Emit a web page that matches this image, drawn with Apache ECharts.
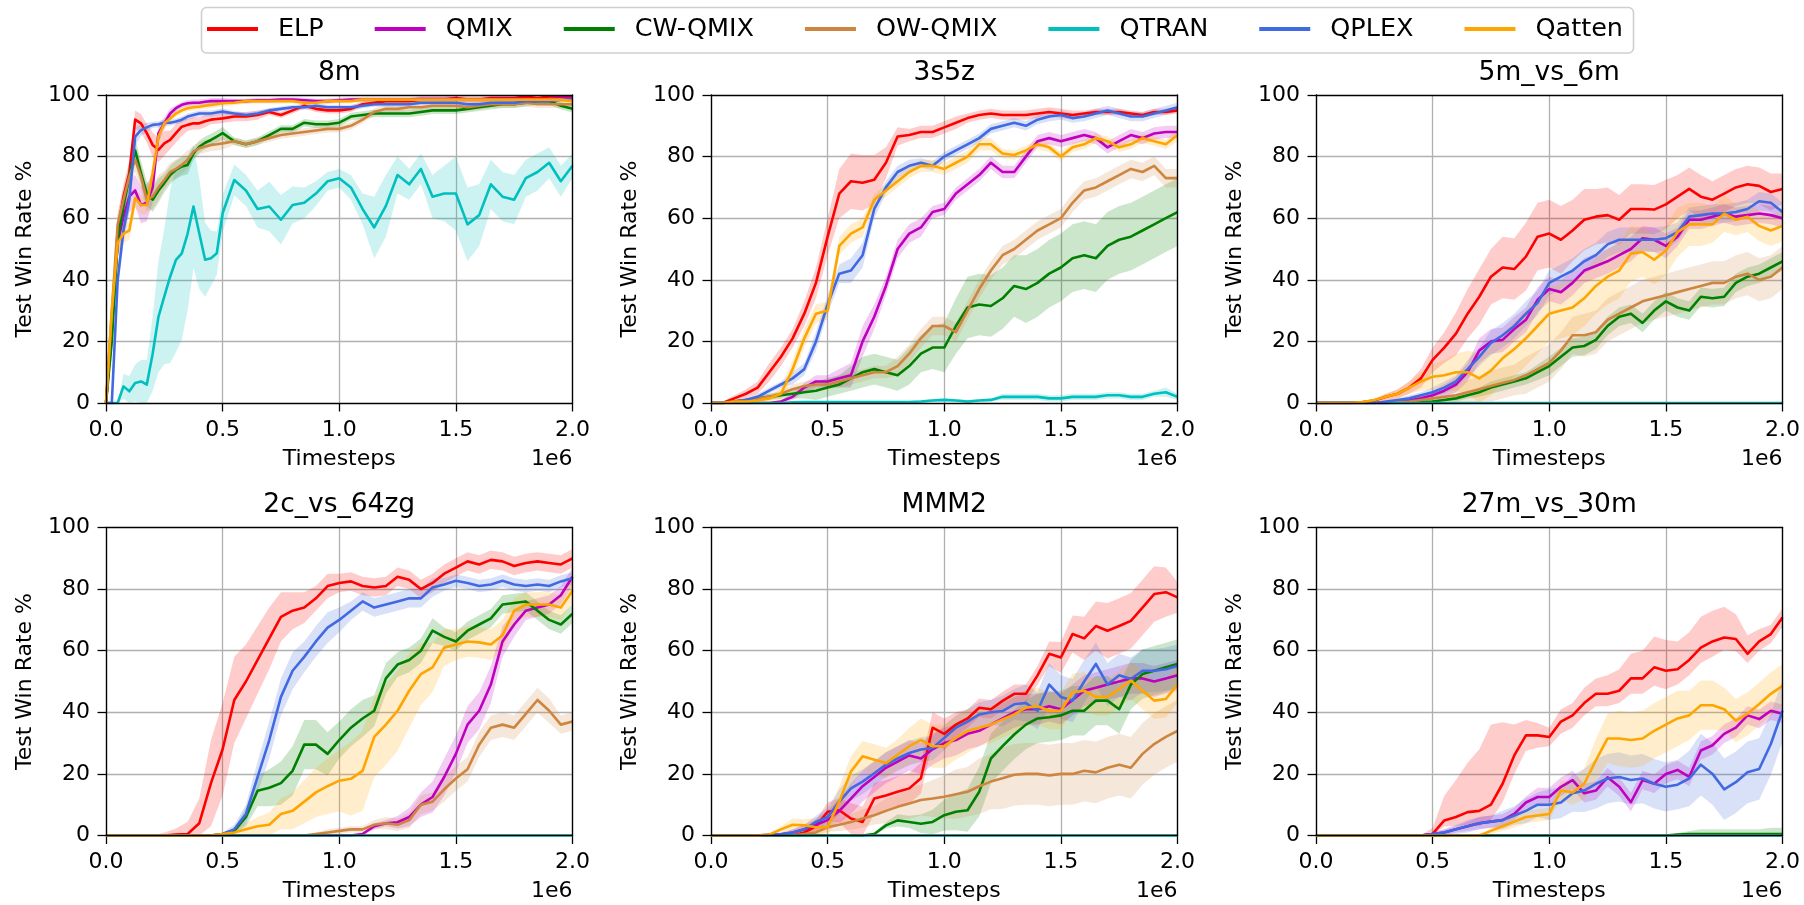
<!DOCTYPE html>
<html><head><meta charset="utf-8">
<script src="https://cdn.jsdelivr.net/npm/echarts/dist/echarts.min.js"></script>
<style>html,body{margin:0;padding:0;background:#fff}#c{width:1804px;height:905px}</style>
</head><body><div id="c"></div>
<script>
// ---------------- DATA ----------------
const METHODS = ['ELP','QMIX','CW-QMIX','OW-QMIX','QTRAN','QPLEX','Qatten'];
const TITLES = ['8m','3s5z','5m_vs_6m','2c_vs_64zg','MMM2','27m_vs_30m'];
const X_TICKS = [0, 0.5, 1.0, 1.5, 2.0];   // x in units of 1e6
const Y_TICKS = [0, 20, 40, 60, 80, 100];

const X_STD = [0,0.05,0.1,0.15,0.2,0.25,0.3,0.35,0.4,0.45,
 0.5,0.55,0.6,0.65,0.7,0.75,0.8,0.85,0.9,0.95,
 1.0,1.05,1.1,1.15,1.2,1.25,1.3,1.35,1.4,1.45,
 1.5,1.55,1.6,1.65,1.7,1.75,1.8,1.85,1.9,1.95,
 2.0];
const X_8M = [0,0.025,0.05,0.075,0.1,0.125,0.15,0.175,0.2,0.225,
 0.25,0.275,0.3,0.325,0.35,0.375,0.4,0.425,0.45,0.475,
 0.5,
 0.55,0.6,0.65,0.7,0.75,0.8,0.85,0.9,0.95,1.0,
 1.05,1.1,1.15,1.2,1.25,1.3,1.35,1.4,1.45,1.5,
 1.55,1.6,1.65,1.7,1.75,1.8,1.85,1.9,1.95,2.0];
const Z41 = [0,0,0,0,0,0,0,0,0,0, 0,0,0,0,0,0,0,0,0,0, 0,0,0,0,0,0,0,0,0,0, 0,0,0,0,0,0,0,0,0,0, 0];

// ---- 8m ----
const s8_ELP = [0,25,56,67,74.6,92,90.8,87.6,83.8,82.2,84.3,85.4,87.6,89.7,90.3,90.8,90.8,91.5,92,92.2,92.4,
 93,93,93.5,94.5,93.5,95,96.5,95.5,95,95,
 95.5,97,97.5,98,98,98,98.5,98.5,98.5,99,
 98.5,98.5,99,99,99,99.5,99,99.5,99.5,99.5];
const s8_ELP_sd = [0,5,5,4,4,3,3,3,4,4,4,3,3,3,2,2,2,2,1.5,1.5,1.5,
 1.5,1.5,1.5,1,1,1,1,1,1,1,
 1,1,1,1,1,1,1,1,1,1,
 1,1,1,1,1,1,1,1,1,1];
const s8_QMIX = [0,25,52,60.5,67,69,64.3,65,70,87.6,90.8,94,95.7,96.8,97.3,97.5,97.5,97.8,98,98,98,
 98,98,98.3,98.3,98.5,98.5,98.3,98,98,98.3,
 98.5,98.5,98.5,98.5,98.5,98.5,98.7,98.7,98.7,98.7,
 98.5,98.5,98.7,98.7,98.7,98.7,98.5,98.7,99,99];
const s8_QMIX_sd = [0,5,5,5,5,5,6,6,5,3,2,1.5,1,1,1,1,1,1,1,1,1,
 0.8,0.8,0.8,0.8,0.8,0.8,0.8,0.8,0.8,0.8,
 0.8,0.8,0.8,0.8,0.8,0.8,0.8,0.8,0.8,0.8,
 0.8,0.8,0.8,0.8,0.8,0.8,0.8,0.8,0.8,0.8];
const s8_CW = [0,20,53,63.8,73.5,82,74.6,68,66,69,71.4,74,75.7,76.8,77.3,81,83.2,84.5,85.4,86.5,87.6,
 85,84,85,87,89,89,91,90.5,90.5,91,
 93,93.5,94,94,94,94,94.5,95,95,95,
 95.5,96,96.5,97,97,97.5,98,98,96.5,95.5];
const s8_CW_sd = [0,4,4,4,4,4,4,4,4,4,3,3,3,3,3,2,2,2,2,2,2,
 1.2,1.2,1.2,1.2,1.2,1.2,1.2,1.2,1.2,1.2,
 1.2,1.2,1.2,1.2,1.2,1.2,1.2,1.2,1.2,1.2,
 1.2,1.2,1.2,1.2,1.2,1.2,1.2,1.2,1.2,1.2];
const s8_OW = [0,30,58,66,73.5,79,73.5,66,67,70,72.4,75,76,77.3,79,81.6,82.7,83.3,83.8,84,84.3,
 85,84,85,86,87,87.5,88,88.5,89,89,
 90,92,94.5,95.5,95.5,96,96,96.5,96.5,96.5,
 96,96.5,97,97,97,97.5,97,97,97,97];
const s8_OW_sd = [0,4,4,4,4,4,4,4,4,4,3,3,3,3,3,2,2,2,2,2,2,
 1.2,1.2,1.2,1.2,1.2,1.2,1.2,1.2,1.2,1.2,
 1.2,1.2,1.2,1.2,1.2,1.2,1.2,1.2,1.2,1.2,
 1.2,1.2,1.2,1.2,1.2,1.2,1.2,1.2,1.2,1.2];
const s8_QTRAN = [0,0,0,5.4,3.8,6.5,7,6,16,28,34.6,41,46.5,48.6,55,63.8,55,46.5,47,48.6,61.6,
 72.4,69,63,63.8,59.5,64.3,65,68,72,73,
 70,63,57,64,74,71,76,67,68,68,
 58,61,71,67,66,73,75,78,72,77];
const s8_QTRAN_sd = [0,0,0,4,5,6,7,8,12,18,22,28,30,28,25,20,18,12,9,7,6,
 5,5,6,8,8,6,5,4,3,3,
 4,5,10,10,6,5,5,7,9,12,
 12,10,8,8,8,6,6,5,5,4];
const s8_QPLEX = [0,0,40,56,66,86.5,88.6,89.5,90.3,90.5,91,91,91.4,92,93,93.5,94,94,94,94.3,94.6,
 94,93.5,94,95,95.5,96,96,96.5,96,96,
 96,96.5,97,97,97,97,97.5,97.5,97.5,97.5,
 97,97,97.5,97.5,97.5,98,98,98,98.5,98.5];
const s8_QPLEX_sd = [0,0,4,4,4,3,2,1.5,1,1,1,1,1,1,1,1,1,1,1,1,1,
 0.8,0.8,0.8,0.8,0.8,0.8,0.8,0.8,0.8,0.8,
 0.8,0.8,0.8,0.8,0.8,0.8,0.8,0.8,0.8,0.8,
 0.8,0.8,0.8,0.8,0.8,0.8,0.8,0.8,0.8,0.8];
const s8_Qatten = [0,30,52,55,56,66.5,64.3,64.3,74.6,86.5,90.8,92.4,94,95,95.7,96,96.2,96.5,96.8,97,97.3,
 97.5,98,98,98,98,98,97.5,97.5,98,98,
 98,98.5,98.5,98.5,98.5,98.5,98.5,98.5,98.5,98.5,
 98.5,98.5,98.5,98.5,98.5,98.5,98.5,98.5,98.5,98];
const s8_Qatten_sd = [0,5,4,3,3,3,3,3,3,2,1.5,1,1,1,1,1,1,1,1,1,1,
 0.8,0.8,0.8,0.8,0.8,0.8,0.8,0.8,0.8,0.8,
 0.8,0.8,0.8,0.8,0.8,0.8,0.8,0.8,0.8,0.8,
 0.8,0.8,0.8,0.8,0.8,0.8,0.8,0.8,0.8,0.8];

// ---- 3s5z ----
const s3_ELP = [0,0,1.5,3,5,10,15,21,29,39, 54,68,72,71.5,72.5,78,86.5,87,88,88,
 89.5,91,92.5,93.5,94,93.5,93.5,93.5,94,94.5, 94,93.5,94,94.5,94.5,94.5,94,93.5,94.5,94.5, 95];
const s3_ELP_sd = [0,0.5,1,1.5,2,3,3,3,4,5, 6,8,9,9,8,5,3,2,2,2,
 2,2,1.5,1.5,1.5,1.5,1.5,1.5,1.5,1.5, 1.5,1.5,1,1,1,1,1,1,1,1, 1];
const s3_QMIX = [0,0,0,0,0,0,0.5,2,5,7, 7,8,9,20,28,38,50,55,57,62,
 63,68,71,74,78,75,75,80,85,86, 85,86,87,86,83,85,87,86,87.5,88, 88];
const s3_QMIX_sd = [0,0,0,0,0,0,0.5,1,1.5,2, 2,3,4,5,4,3,3,3,3,2,
 2,2,2,2,2,2,2,2,2,2, 2,2,2,2,2,2,2,2,2,2, 2];
const s3_CW = [0,0,0.5,1,1.5,2,2.5,3,3.5,4, 5,6,8,10,11,10,9,12,16,18,
 18,25,31,32,31.5,34,38,37,39,42, 44,47,48,47,51,53,54,56,58,60, 62];
const s3_CW_sd = [0,0,0.5,0.5,1,1,1,1.5,2,3, 3,3,4,5,5,5,5,6,6,7,
 8,9,10,10,10,10,10,11,11,11, 11,11,11,11,11,11,11,11,11,11, 11];
const s3_OW = [0,0,0.5,1,1.5,2,3,4.5,5.5,6, 6,7,8,9,10,10,12,16,21,25,
 25,23,30,37,43,48,50,53,56,58, 60,65,69,70,72,74,76,75,77,73, 73];
const s3_OW_sd = [0,0,0.5,0.5,1,1,1,1.5,1.5,1.5, 1.5,2,2,2,2,2,3,3,3,3,
 3,3,3,3,3,3,3,3,3,3, 3,3,3,3,3,3,3,3,3,3, 3];
const s3_QTRAN = [0,0,0,0,0,0,0,0.2,0.3,0.3, 0.3,0.3,0.3,0.3,0.3,0.3,0.3,0.3,0.5,0.8,
 1,0.8,0.5,0.8,1,2,2,2,2,1.5, 1.5,2,2,2,2.5,2.5,2,2,3,3.5, 2];
const s3_QTRAN_sd = [0,0,0,0,0,0,0,0.3,0.3,0.3, 0.3,0.3,0.3,0.3,0.3,0.3,0.3,0.3,0.5,0.5,
 0.5,0.5,0.5,0.5,0.5,1,1,1,1,1, 1,1,1,1,1,1,1,1,1,1.5, 1];
const s3_QPLEX = [0,0,0.5,1,2,4,6,8,11,20, 32,42,43,48,63,70,75,77,78,77,
 80,82,84,86,89,90,91,90,92,93, 93.5,92.5,93,94,95,94,93,93,94,95, 96];
const s3_QPLEX_sd = [0,0,0.5,0.5,1,1,1,2,2,3, 3,3,4,4,3,2,2,2,1.5,1.5,
 1.5,1.5,1.5,1.5,1.5,1.5,1.5,1.5,1.5,1.5, 1.5,1.5,1.5,1.5,1.5,1.5,1.5,1.5,1.5,1.5, 1.5];
const s3_Qatten = [0,0,0.5,0.5,0.8,1.5,3,11,21,29, 30,51,55,57,66,69,72,75,77,77,
 76,78,80,84,84,81,80.5,82,84,83, 80,83,84,86,85,83,84,86,85,84, 87];
const s3_Qatten_sd = [0,0,0.5,0.5,0.5,1,2,3,3,3, 3,3,3,3,2,2,2,2,2,2,
 2,2,2,2,2,1.5,1.5,1.5,1.5,1.5, 1.5,1.5,1.5,1.5,1.5,1.5,1.5,1.5,1.5,1.5, 2];

// ---- 5m_vs_6m ----
const s5_ELP = [0,0,0,0,0.3,0.8,2,3,5,8, 14,18,22.5,29,34.5,41,44,43.5,47.5,54,
 55,53,56,59.5,60.5,61,59.5,63,63,62.8, 64.5,67,69.5,67,66,68,70,71,70.5,68.5, 69.5];
const s5_ELP_sd = [0,0,0,0,0.3,0.5,1,1.5,2,3, 4,5,7,8,9,9,10,10,11,11,
 11,11,10,10,9,9,8,8,8,8, 8,7,7,7,6,6,6,6,6,6, 5];
const s5_QMIX = [0,0,0,0,0,0,0,0.3,0.8,1.5, 2.5,4,6,10,17,20,20.5,24,27,33.5,
 37,36,39,43,44.5,46,48,50,53.5,53, 51,54,59.5,59.5,60.5,61.5,60.5,61,61.5,61, 60];
const s5_QMIX_sd = [0,0,0,0,0,0,0,0.3,0.5,1, 1.5,2,2.5,3,4,4,4,4,4,4,
 4,4,4,4,4,4,4,4,4,4, 4,3,3,3,3,3,3,3,3,3, 3];
const s5_CW = [0,0,0,0,0,0,0,0,0,0.3, 0.5,1,1.5,2.5,3.5,5,6,7,8,10,
 12,15,18,18.5,20.5,25,28,29,26,30, 33,31,30,34.5,34,34.5,39,41,42,44, 46];
const s5_CW_sd = [0,0,0,0,0,0,0,0,0,0.3, 0.5,0.5,1,1,1.5,2,2,2,2,2.5,
 3,3,3,3,3,3,3,3,3,3, 3,3,3,3,3,3,3,3,3,3, 3];
const s5_OW = [0,0,0,0,0,0,0,0.3,0.5,1, 1.5,2,2.5,3.5,4.5,5.5,6.5,7.5,9,11,
 13,17,22,22,23,27,29,31,33,34, 35,36,37,38,39,39,41,42,40,41, 44];
const s5_OW_sd = [0,0,0,0,0,0,0,0.5,1,1.5, 2,3,3,4,4,5,5,5,6,6,
 6,6,6,7,7,7,7,7,7,7, 7,7,7,7,7,7,7,7,7,7, 7];
const s5_QTRAN = Z41, s5_QTRAN_sd = Z41;
const s5_QPLEX = [0,0,0,0,0,0,0.5,1,1.5,2.5, 3.5,5,7,11,15,19.5,22,25,29,32.5,
 39,41,43,46,48,51.5,53,53,53,53, 53.5,55.5,60.5,61,61.5,61.5,62,63,65.5,65, 62];
const s5_QPLEX_sd = [0,0,0,0,0,0,0.5,0.5,1,1, 1.5,2,2,3,3,4,4,4,4,4,
 4,4,4,4,4,4,4,4,4,4, 4,3,3,3,3,3,3,3,3,3, 3];
const s5_Qatten = [0,0,0,0,0.3,1,2,3,5,7, 8.5,9,10,10,8,10.5,14.5,17.5,21,25,
 29,30,31,34,38,41,43,48.5,49,46.5, 49.5,55.5,58,58,58,61.5,59.5,60.5,57.5,56, 57.5];
const s5_Qatten_sd = [0,0,0,0,0.3,0.5,1,1.5,2,3, 4,5,6,7,8,8,8,9,9,9,
 9,9,9,9,9,9,9,9,8,8, 8,8,7,7,6,6,5,5,5,5, 5];

// ---- 2c_vs_64zg ----
const s2_ELP = [0,0,0,0,0,0,0.3,0.5,4,17, 28,44,50,57,64,71,73,74,77,81,
 82,82.5,81,80.5,81,84,83,80,82,85, 87,89,88,89.5,89,87.5,88.5,89,88.5,88, 90];
const s2_ELP_sd = [0,0,0,0,0,1,2,4,8,14, 15,14,12,11,10,8,6,5,4,4,
 3,3,3,3,3,3,3,3,3,3, 3,3,3,3,3,3,3,3,3,3, 3];
const s2_QMIX = [0,0,0,0,0,0,0,0,0,0, 0,0,0,0,0,0,0,0,0,0,
 0,0,0.5,3,4,4.3,6,10,12.5,19, 26.5,36,40.5,49,63,68.5,73,74,75,78, 84];
const s2_QMIX_sd = [0,0,0,0,0,0,0,0,0,0, 0,0,0,0,0,0,0,0,0,0,
 0,0,0.5,1,1,2,3,4,5,6, 6,6,6,6,5,4,3,3,3,3, 3];
const s2_CW = [0,0,0,0,0,0,0,0,0,0, 0.5,1.5,6,14.5,15.5,17,21,29.5,29.5,26.5,
 31,35,38,40.5,51,55.5,57,60,66.5,64.5, 63,66.5,68.5,70.5,75,75.5,76,73,70,68.5, 72];
const s2_CW_sd = [0,0,0,0,0,0,0,0,0,0, 0.5,1,3,5,6,7,8,8,8,7,
 6,6,6,5,5,4,4,4,4,3, 3,3,3,3,3,3,3,3,3,3, 3];
const s2_OW = [0,0,0,0,0,0,0,0,0,0, 0,0,0,0,0,0,0,0,0.5,1,
 1.5,2,2,3.5,4,3.5,5,10,11,15, 18.5,21.5,29.5,35,36,35,39.5,44,40.5,36, 37];
const s2_OW_sd = [0,0,0,0,0,0,0,0,0,0, 0,0,0,0,0,0,0,0,0.5,1,
 1,1,1,1.5,2,2,2.5,3,3,4, 4,4,4,4,4,4,4,4,4,3, 3];
const s2_QTRAN = Z41, s2_QTRAN_sd = Z41;
const s2_QPLEX = [0,0,0,0,0,0,0,0,0,0, 0.5,2,7,19,31,45,53.5,58,63,67.5,
 70,73,76,74,75,76,77,77,80.5,81.5, 82.7,82,81,81.5,82.7,81.5,81,81.5,81,82.5, 83.5];
const s2_QPLEX_sd = [0,0,0,0,0,0,0,0,0,0, 0.5,1.5,3,5,6,6,6,5,5,5,
 4,3,3,3,3,3,3,3,3,2, 2,2,2,2,2,2,2,2,2,2, 2];
const s2_Qatten = [0,0,0,0,0,0,0,0,0,0, 0.5,1,2,3,3.5,7,8,11,14,16,
 17.8,18.4,21,32,36,40.5,47,52.4,54.6,61, 62,63,62.7,62,65,73,75,75,75,74, 79.5];
const s2_Qatten_sd = [0,0,0,0,0,0,0,0,0,0, 0.5,1,2,3,4,5,6,7,8,9,
 10,12,13,13,13,13,12,10,8,6, 5,5,5,5,5,4,4,4,4,4, 4];

// ---- MMM2 ----
const sM_ELP = [0,0,0,0,0,0,0,0,1,3, 7.7,8.2,5.5,4.4,12,13,14.2,15.3,18.6,35,
 33,36,38,41.5,41,43.7,46,46,52,59, 57.8,65.4,64,68,66.5,68,69.7,74,78.4,79, 77.3];
const sM_ELP_sd = [0,0,0,0,0,0,0,0,1,2, 3,4,5,5,5,5,5,5,5,5,
 5,4,3,3,3,3,3,3,3,4, 5,6,7,8,9,9,9,9,9,8, 5];
const sM_QMIX = [0,0,0,0,0,0,0.3,1,2,3.5, 5,8,12,16,19,22,24,26,25,28,
 30,31,33,34,36,38,40,41,41,42, 41,44,47,48,49,50,51,51,50,51, 52];
const sM_QMIX_sd = [0,0,0,0,0,0,0.3,1,1.5,2, 3,4,5,5,5,5,5,5,5,5,
 5,5,5,5,5,5,5,5,5,5, 5,5,5,5,5,5,5,5,5,5, 5];
const sM_CW = [0,0,0,0,0,0,0,0,0,0, 0,0,0,0,0.5,3.3,4.9,4.4,3.8,4.4,
 6.6,7.7,8.2,14.2,25,29,32.8,36,38,38.4, 39,40.5,40.5,43.8,43.8,41,49,52.4,53.5,54.6, 55.7];
const sM_CW_sd = [0,0,0,0,0,0,0,0,0,0, 0,0,0,0,0.5,1,2,2,3,4,
 5,6,7,8,8,8,8,8,8,8, 8,8,8,8,8,8,8,8,8,8, 8];
const sM_OW = [0,0,0,0,0,0,0,0,0.5,1, 2.7,3.5,4.4,5.5,6.6,8,9.3,10.4,11.5,12,
 12.6,13.4,14.2,16,17.5,18.6,19.7,20,20,19.5, 20,20,21,20.5,22,23,22,26.5,29.7,32, 34];
const sM_OW_sd = [0,0,0,0,0,0,0,0,0.5,1, 1.5,2,2.5,3,3,4,4,5,5,6,
 7,8,8,9,9,10,10,10,10,10, 10,10,10,10,10,10,10,10,10,10, 10];
const sM_QTRAN = Z41, sM_QTRAN_sd = Z41;
const sM_QPLEX = [0,0,0,0,0,0.3,0.5,1,2,4.4, 6,11,15.3,17.5,20.2,23,25,26.8,27.9,28.4,
 31.7,35,37,39.3,40,40.4,42.6,43,40.5,49, 45,43.8,50,55.7,49,52,50.8,53.5,53.5,54, 55];
const sM_QPLEX_sd = [0,0,0,0,0,0.3,0.5,1,1.5,2, 3,4,4,4,4,4,4,4,4,4,
 4,4,4,4,4,5,5,6,6,7, 7,7,7,7,7,7,7,7,7,7, 7];
const sM_Qatten = [0,0,0,0,0,0.3,2,3.5,3.3,2.7, 2.7,11,20.8,25.7,24.6,23.5,26.2,29,31,29,
 29,31.7,33.9,35,36,37.7,39.3,41.5,42,40.5, 40.5,46.5,47,45,45,47.5,50.3,47,43.8,44.3, 49];
const sM_Qatten_sd = [0,0,0,0,0,0.5,1,2,2,3, 4,5,5,5,5,5,5,6,7,7,
 7,7,7,6,6,6,6,6,6,6, 6,6,6,6,6,6,6,6,6,6, 6];

// ---- 27m_vs_30m ----
const s27_ELP = [0,0,0,0,0,0,0,0,0,0, 0.5,4.9,6,7.6,8,10,16.8,26,32.5,32.5,
 32,37,39,43,46,46,47,51,51,54.6, 53.5,54,57,61,63,64.3,63.8,59,63,65.4, 70.8];
const s27_ELP_sd = [0,0,0,0,0,0,0,0,0,0, 1,2,3,4,5,5,6,6,5,4,
 3,4,4,4,4,4,4,5,5,6, 6,5,5,5,5,4,4,3,3,3, 3];
const s27_ELP_up = [0,0,0,0,0,0,0,0,0,0, 2,8,12,16,20,26,20,10,5,4,
 3,4,4,5,5,6,7,8,9,10, 10,9,9,10,10,10,8,6,4,3, 3];
const s27_QMIX = [0,0,0,0,0,0,0,0,0,0, 0.5,1,2,3,4,4.5,5,7,10.7,12.5,
 12.5,15.8,18,13.7,14.6,18.9,15.8,10.8,18,16.8, 20,21.3,19,27.6,29.3,33,35,39,37.8,40.5, 39.5];
const s27_QMIX_sd = [0,0,0,0,0,0,0,0,0,0, 0.5,1,1,1.5,2,2,2,2,2,3,
 3,3,3,3,3,3,3,3,3,3, 3,3,3,3,3,3,3,3,3,3, 3];
const s27_CW = [0,0,0,0,0,0,0,0,0,0, 0,0,0,0,0,0,0,0,0,0,
 0,0,0,0,0,0,0,0,0,0, 0,0.3,0.5,0.5,0.5,0.5,0.5,0.5,0.5,0.5, 0.5];
const s27_CW_sd = [0,0,0,0,0,0,0,0,0,0, 0,0,0,0,0,0,0,0,0,0,
 0,0,0,0,0,0,0,0,0,0, 0,0.5,1,1.5,1.5,1.5,1.5,1.5,1.5,2, 2];
const s27_OW = Z41, s27_OW_sd = Z41;
const s27_QTRAN = Z41, s27_QTRAN_sd = Z41;
const s27_QPLEX = [0,0,0,0,0,0,0,0,0,0, 0.5,1,2,3,4,4.5,5,6.5,8,10,
 10,10.7,13.7,14.6,16.8,18.5,19,18,18.5,16.8, 15.8,16.5,18.5,23,20,15,17.3,20.5,21.6,29.7, 40.5];
const s27_QPLEX_sd = [0,0,0,0,0,0,0,0,0,0, 0.5,1,1.5,2,2,2,3,3,4,4,
 5,5,6,7,8,8,8,8,8,8, 8,8,9,10,10,10,10,10,10,10, 10];
const s27_Qatten = [0,0,0,0,0,0,0,0,0,0, 0,0,0,0,0,1.5,3,4.5,6,6.5,
 7,14.6,14,16.8,24.4,31.5,31.5,31,31.5,34, 36,38,39,42.3,42.3,41,37.3,39.5,42.7,46, 48.6];
const s27_Qatten_sd = [0,0,0,0,0,0,0,0,0,0, 0,0,0,0,0,1,1.5,2,2,2,
 2,3,4,5,7,8,9,9,9,9, 9,9,8,8,8,7,7,7,7,7, 7];

// ---------------- TABLE built from the arrays ----------------
const PLOTS = [
 {title: TITLES[0], x: X_8M,
  mean: [s8_ELP, s8_QMIX, s8_CW, s8_OW, s8_QTRAN, s8_QPLEX, s8_Qatten],
  sd:   [s8_ELP_sd, s8_QMIX_sd, s8_CW_sd, s8_OW_sd, s8_QTRAN_sd, s8_QPLEX_sd, s8_Qatten_sd]},
 {title: TITLES[1], x: X_STD,
  mean: [s3_ELP, s3_QMIX, s3_CW, s3_OW, s3_QTRAN, s3_QPLEX, s3_Qatten],
  sd:   [s3_ELP_sd, s3_QMIX_sd, s3_CW_sd, s3_OW_sd, s3_QTRAN_sd, s3_QPLEX_sd, s3_Qatten_sd]},
 {title: TITLES[2], x: X_STD,
  mean: [s5_ELP, s5_QMIX, s5_CW, s5_OW, s5_QTRAN, s5_QPLEX, s5_Qatten],
  sd:   [s5_ELP_sd, s5_QMIX_sd, s5_CW_sd, s5_OW_sd, s5_QTRAN_sd, s5_QPLEX_sd, s5_Qatten_sd]},
 {title: TITLES[3], x: X_STD,
  mean: [s2_ELP, s2_QMIX, s2_CW, s2_OW, s2_QTRAN, s2_QPLEX, s2_Qatten],
  sd:   [s2_ELP_sd, s2_QMIX_sd, s2_CW_sd, s2_OW_sd, s2_QTRAN_sd, s2_QPLEX_sd, s2_Qatten_sd]},
 {title: TITLES[4], x: X_STD,
  mean: [sM_ELP, sM_QMIX, sM_CW, sM_OW, sM_QTRAN, sM_QPLEX, sM_Qatten],
  sd:   [sM_ELP_sd, sM_QMIX_sd, sM_CW_sd, sM_OW_sd, sM_QTRAN_sd, sM_QPLEX_sd, sM_Qatten_sd]},
 {title: TITLES[5], x: X_STD,
  mean: [s27_ELP, s27_QMIX, s27_CW, s27_OW, s27_QTRAN, s27_QPLEX, s27_Qatten],
  sd:   [s27_ELP_sd, s27_QMIX_sd, s27_CW_sd, s27_OW_sd, s27_QTRAN_sd, s27_QPLEX_sd, s27_Qatten_sd],
  up:   [s27_ELP_up, null, null, null, null, null, null]}
];

// ---------------- STYLE / LAYOUT ----------------
const COLORS = ['#ff0000','#bf00bf','#008000','#cd853f','#00bfbf','#4169e1','#ffa500'];
const FONT = 'DejaVu Sans';
const LAYOUT = [
 {left:106, top:95}, {left:711, top:95}, {left:1316, top:95},
 {left:106, top:527.5}, {left:711, top:527.5}, {left:1316, top:527.5}
];
const GW = 466.5, GH = 308;
const LINE_W = 2.6;

function rgba(hex, a) {
  const n = parseInt(hex.slice(1), 16);
  return 'rgba(' + ((n >> 16) & 255) + ',' + ((n >> 8) & 255) + ',' + (n & 255) + ',' + a + ')';
}

const grid = [], xAxis = [], yAxis = [], series = [], graphic = [];
const nG = PLOTS.length;

PLOTS.forEach((p, gi) => {
  const L = LAYOUT[gi];
  grid.push({left: L.left, top: L.top, width: GW, height: GH, show: false});
  xAxis.push({
    gridIndex: gi, type: 'value', position: 'bottom',
    min: X_TICKS[0], max: X_TICKS[X_TICKS.length - 1], interval: X_TICKS[1] - X_TICKS[0],
    axisLine: {show: false},
    axisTick: {show: true, inside: false, length: 8.5, lineStyle: {color: '#000', width: 1.3}},
    axisLabel: {show: true, margin: 16, color: '#000', fontSize: 22, fontFamily: FONT, lineHeight: 22,
      formatter: v => v.toFixed(1)},
    splitLine: {show: true, showMinLine: false, showMaxLine: false, lineStyle: {color: '#b0b0b0', width: 1.3}}
  });
  yAxis.push({
    gridIndex: gi, type: 'value', position: 'left',
    min: Y_TICKS[0], max: Y_TICKS[Y_TICKS.length - 1], interval: Y_TICKS[1] - Y_TICKS[0],
    axisLine: {show: false},
    axisTick: {show: true, inside: false, length: 8.5, lineStyle: {color: '#000', width: 1.3}},
    axisLabel: {show: true, margin: 16, color: '#000', fontSize: 22, fontFamily: FONT},
    splitLine: {show: true, showMinLine: false, showMaxLine: false, lineStyle: {color: '#b0b0b0', width: 1.3}}
  });
});
// frame (spines) drawn above the data
const frameAxis = {axisTick: {show: false}, axisLabel: {show: false}, splitLine: {show: false},
  axisLine: {show: true, onZero: false, lineStyle: {color: '#000', width: 1.4}}, z: 6, silent: true};
PLOTS.forEach((p, gi) => {
  ['bottom', 'top'].forEach(pos => xAxis.push(Object.assign({gridIndex: gi, type: 'value', position: pos, min: 0, max: 2}, frameAxis)));
  ['left', 'right'].forEach(pos => yAxis.push(Object.assign({gridIndex: gi, type: 'value', position: pos, min: 0, max: 100}, frameAxis)));
});

PLOTS.forEach((p, gi) => {
  const xs = p.x;
  METHODS.forEach((name, k) => {
    const mean = p.mean[k], dn = p.sd[k], up = (p.up && p.up[k]) || p.sd[k];
    if (!dn.some(v => v > 0) && !up.some(v => v > 0)) return;
    const color = rgba(COLORS[k], 0.2);
    series.push({
      type: 'custom', xAxisIndex: gi, yAxisIndex: gi, z: 1, silent: true, clip: true,
      data: [[xs[0], mean[0]]],
      renderItem: function (params, api) {
        const top = [], bot = [];
        const n = Math.min(xs.length, mean.length, dn.length, up.length);
        for (let i = 0; i < n; i++) {
          const hi = Math.min(100, mean[i] + up[i]);
          const lo = Math.max(0, mean[i] - dn[i]);
          top.push(api.coord([xs[i], hi]));
          bot.push(api.coord([xs[i], lo]));
        }
        return {type: 'polygon', shape: {points: top.concat(bot.reverse())}, style: {fill: color}};
      }
    });
  });
  METHODS.forEach((name, k) => {
    const mean = p.mean[k];
    series.push({
      type: 'line', name: name, xAxisIndex: gi, yAxisIndex: gi, z: 2, silent: true,
      showSymbol: false, symbol: 'none', clip: true,
      lineStyle: {color: COLORS[k], width: LINE_W, join: 'round'},
      itemStyle: {color: COLORS[k]},
      data: xs.map((x, i) => [x, mean[i]])
    });
  });
});

function txt(x, y, text, size, align, rot) {
  return {type: 'text', x: x, y: y, rotation: rot || 0, silent: true, z: 10,
    style: {text: text, fill: '#000', fontSize: size, fontFamily: FONT,
      textAlign: align, textVerticalAlign: 'middle', align: align, verticalAlign: 'middle'}};
}
// legend frame
graphic.push({type: 'rect', shape: {x: 201.5, y: 7.5, width: 1432, height: 45.5, r: 5}, z: 0, silent: true,
  style: {fill: '#fff', stroke: '#cfcfcf', lineWidth: 1.6}});
PLOTS.forEach((p, gi) => {
  const L = LAYOUT[gi];
  const cx = L.left + GW / 2;
  graphic.push(txt(cx, L.top - 22, p.title, 26.5, 'center'));
  graphic.push(txt(cx, L.top + GH + 56.2, 'Timesteps', 22, 'center'));
  graphic.push(txt(L.left + GW, L.top + GH + 56, '1e6', 22, 'right'));
  graphic.push(txt(L.left - 81, L.top + GH / 2, 'Test Win Rate %', 22, 'center', Math.PI / 2));
});

const option = {
  animation: false,
  backgroundColor: '#fff',
  grid: grid, xAxis: xAxis, yAxis: yAxis, series: series,
  graphic: graphic,
  legend: {
    data: METHODS, left: 207, top: 16, padding: 0, icon: 'rect',
    itemWidth: 51, itemHeight: 4, itemGap: 51, selectedMode: false,
    textStyle: {fontSize: 25.5, fontFamily: FONT, color: '#000', padding: [0, 0, 0, 15]}
  }
};
const chart = echarts.init(document.getElementById('c'), null, {renderer: 'canvas', width: 1804, height: 905});
chart.setOption(option);
</script></body></html>
